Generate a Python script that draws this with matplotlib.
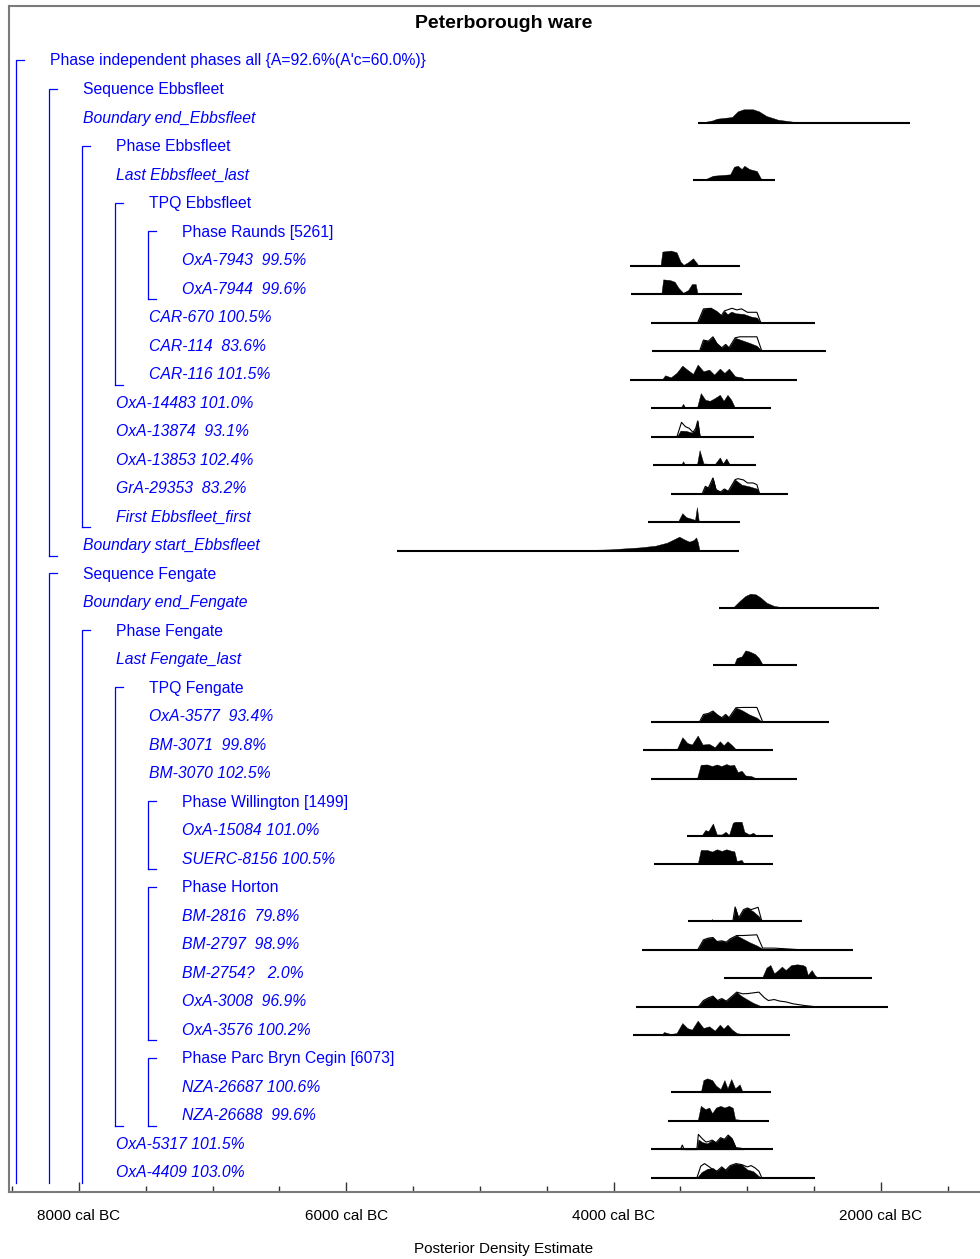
"""OxCal style multiplot: Peterborough ware posterior densities."""

import matplotlib
matplotlib.use("Agg")
import matplotlib.pyplot as plt
from matplotlib import font_manager
from matplotlib.transforms import blended_transform_factory


TITLE = "Peterborough ware"
XLABEL = "Posterior Density Estimate"

LABELS = [
    "Phase independent phases all {A=92.6%(A'c=60.0%)}",
    "Sequence Ebbsfleet",
    "Boundary end_Ebbsfleet",
    "Phase Ebbsfleet",
    "Last Ebbsfleet_last",
    "TPQ Ebbsfleet",
    "Phase Raunds [5261]",
    "OxA-7943  99.5%",
    "OxA-7944  99.6%",
    "CAR-670 100.5%",
    "CAR-114  83.6%",
    "CAR-116 101.5%",
    "OxA-14483 101.0%",
    "OxA-13874  93.1%",
    "OxA-13853 102.4%",
    "GrA-29353  83.2%",
    "First Ebbsfleet_first",
    "Boundary start_Ebbsfleet",
    "Sequence Fengate",
    "Boundary end_Fengate",
    "Phase Fengate",
    "Last Fengate_last",
    "TPQ Fengate",
    "OxA-3577  93.4%",
    "BM-3071  99.8%",
    "BM-3070 102.5%",
    "Phase Willington [1499]",
    "OxA-15084 101.0%",
    "SUERC-8156 100.5%",
    "Phase Horton",
    "BM-2816  79.8%",
    "BM-2797  98.9%",
    "BM-2754?   2.0%",
    "OxA-3008  96.9%",
    "OxA-3576 100.2%",
    "Phase Parc Bryn Cegin [6073]",
    "NZA-26687 100.6%",
    "NZA-26688  99.6%",
    "OxA-5317 101.5%",
    "OxA-4409 103.0%",
]

LEVELS = [0, 1, 1, 2, 2, 3, 4, 4, 4, 3, 3, 3, 2, 2, 2, 2, 2, 1, 1, 1,
          2, 2, 3, 3, 3, 3, 4, 4, 4, 4, 4, 4, 4, 4, 4, 4, 4, 4, 2, 2]

# rows drawn upright (group headers); everything else is italic
HEADER_ROWS = [0, 1, 3, 5, 6, 18, 20, 22, 26, 29, 35]

# (level, first row, last row or None when the bracket runs to the axis)
BRACKETS = [
    (0, 0, None), (1, 1, 17), (1, 18, None), (2, 3, 16), (2, 20, None),
    (3, 5, 11), (3, 22, 37), (4, 6, 8), (4, 26, 28), (4, 29, 34), (4, 35, 37),
]

# baseline extent of each distribution, years cal BC
LINE_RANGE = {
    "Boundary end_Ebbsfleet": (3366, 1782),
    "Last Ebbsfleet_last": (3409, 2793),
    "OxA-7943  99.5%": (3878, 3056),
    "OxA-7944  99.6%": (3867, 3036),
    "CAR-670 100.5%": (3721, 2492),
    "CAR-114  83.6%": (3715, 2412),
    "CAR-116 101.5%": (3878, 2627),
    "OxA-14483 101.0%": (3721, 2822),
    "OxA-13874  93.1%": (3721, 2950),
    "OxA-13853 102.4%": (3709, 2934),
    "GrA-29353  83.2%": (3572, 2698),
    "First Ebbsfleet_first": (3744, 3056),
    "Boundary start_Ebbsfleet": (5619, 3065),
    "Boundary end_Fengate": (3214, 2011),
    "Last Fengate_last": (3257, 2627),
    "OxA-3577  93.4%": (3721, 2392),
    "BM-3071  99.8%": (3778, 2807),
    "BM-3070 102.5%": (3721, 2627),
    "OxA-15084 101.0%": (3452, 2807),
    "SUERC-8156 100.5%": (3701, 2807),
    "BM-2816  79.8%": (3443, 2590),
    "BM-2797  98.9%": (3787, 2212),
    "BM-2754?   2.0%": (3171, 2069),
    "OxA-3008  96.9%": (3835, 1948),
    "OxA-3576 100.2%": (3858, 2684),
    "NZA-26687 100.6%": (3572, 2822),
    "NZA-26688  99.6%": (3592, 2836),
    "OxA-5317 101.5%": (3721, 2807),
    "OxA-4409 103.0%": (3721, 2492),
}

# posterior (filled) densities: years cal BC, height in pixels (max ~15)
POSTERIOR = {
    "Boundary end_Ebbsfleet": (
        [3357, 3257, 3228, 3114, 3071, 3028, 2956, 2913, 2856, 2770, 2656, 2455, 2312],
        [0, 2.7, 4.3, 6, 11.7, 13.7, 13.7, 11.7, 7, 3.3, 1.3, 0.3, 0]),
    "Last Ebbsfleet_last": (
        [3328, 3257, 3128, 3099, 3071, 3042, 3022, 2985, 2928, 2899, 2885],
        [0, 4.3, 5.7, 13.3, 14.3, 11, 14.3, 11, 9, 1.7, 0]),
    "OxA-7943  99.5%": (
        [3649, 3635, 3572, 3529, 3500, 3477, 3443, 3406, 3377, 3366],
        [0, 14, 15, 13.3, 4, 0.7, 3.3, 7.3, 2.3, 0]),
    "OxA-7944  99.6%": (
        [3643, 3629, 3578, 3543, 3515, 3480, 3443, 3414, 3386, 3372],
        [0, 14.7, 14, 12.3, 6.3, 1.3, 4, 10, 10, 0]),
    "CAR-670 100.5%": (
        [3371, 3328, 3271, 3228, 3194, 3171, 3148, 3120, 3085, 3028, 2971, 2928, 2899],
        [0, 13.7, 14.3, 11, 7, 11.7, 8.3, 11, 9.3, 8.7, 6, 5, 0]),
    "CAR-114  83.6%": (
        [3357, 3328, 3291, 3257, 3228, 3191, 3162, 3137, 3091, 3042, 2985, 2928, 2891],
        [0, 11, 10, 14.3, 7.7, 3.3, 6.7, 3.3, 13.3, 11, 8.3, 5.3, 0]),
    "CAR-116 101.5%": (
        [3638, 3615, 3572, 3529, 3486, 3449, 3406, 3371, 3328, 3285, 3248, 3205,
         3171, 3137, 3091, 3042, 3014],
        [0, 4.3, 2.3, 6.7, 14, 10, 5.7, 15, 8.3, 10, 5, 11, 6.7, 11, 3.3, 2.3, 0]),
    "OxA-14483 101.0%": (
        [3500, 3480, 3463, 3377, 3348, 3314, 3280, 3243, 3205, 3177, 3148, 3120, 3091],
        [0, 4.3, 0, 0, 15, 8.3, 7.3, 10, 13.3, 7.3, 13.3, 8.3, 0]),
    "OxA-13874  93.1%": (
        [3526, 3500, 3457, 3414, 3394, 3371, 3354],
        [0, 6, 5.7, 4, 6, 15.7, 0]),
    "OxA-13853 102.4%": (
        [3495, 3480, 3466, 3377, 3357, 3328, 3243, 3205, 3182, 3157, 3128],
        [0, 4, 0, 0, 15, 1.7, 1, 7.7, 1.7, 6.7, 0]),
    "GrA-29353  83.2%": (
        [3337, 3314, 3291, 3257, 3234, 3200, 3171, 3143, 3091, 3042, 2985, 2928, 2908],
        [0, 7.3, 5.7, 15.7, 4, 1.7, 4.7, 2.3, 14, 9, 7.3, 5, 0]),
    "First Ebbsfleet_first": (
        [3520, 3486, 3457, 3414, 3391, 3377, 3363, 3314, 3171],
        [0, 9, 5, 3.3, 2.3, 15, 1.3, 0.7, 0]),
    "Boundary start_Ebbsfleet": (
        [4603, 4316, 4030, 3801, 3686, 3600, 3543, 3509, 3472, 3434, 3400, 3383,
         3371, 3357],
        [0, 0.3, 1.3, 3.3, 5, 8, 11.7, 14, 11.3, 9, 10.7, 13.3, 9, 0]),
    "Boundary end_Fengate": (
        [3108, 3057, 3014, 2976, 2936, 2899, 2856, 2799, 2713],
        [0, 6.7, 11.7, 14, 13.3, 10, 5, 1.7, 0]),
    "Last Fengate_last": (
        [3099, 3079, 3042, 3014, 2985, 2942, 2913, 2885],
        [0, 6.7, 8.3, 14.3, 13.3, 10.7, 6.7, 0]),
    "OxA-3577  93.4%": (
        [3357, 3328, 3291, 3257, 3223, 3191, 3162, 3137, 3085, 3042, 2985, 2928, 2891],
        [0, 7.3, 8.3, 10.7, 6.7, 4, 7.3, 4, 14, 11.7, 7.3, 4, 0]),
    "BM-3071  99.8%": (
        [3644, 3615, 3572, 3529, 3486, 3449, 3414, 3371, 3334, 3285, 3243, 3205,
         3177, 3148, 3114, 3079],
        [0, 1.7, 0, 0.3, 13, 7.3, 5.7, 14.7, 5.7, 6.3, 3, 9, 5, 9, 5, 0]),
    "BM-3070 102.5%": (
        [3377, 3348, 3300, 3263, 3228, 3194, 3157, 3128, 3099, 3071, 3042, 3014,
         2971, 2928],
        [0, 14, 14.3, 12.7, 14.3, 12.7, 14.7, 13.3, 14, 6.7, 8, 3.3, 2.7, 0]),
    "OxA-15084 101.0%": (
        [3343, 3314, 3291, 3257, 3228, 3191, 3162, 3137, 3108, 3091, 3042, 3022,
         2985, 2956, 2928],
        [0, 5.7, 4.7, 12.3, 1.3, 1.3, 4, 0.7, 13, 14, 14, 4, 1.3, 3, 0]),
    "SUERC-8156 100.5%": (
        [3371, 3348, 3300, 3263, 3228, 3191, 3157, 3114, 3097, 3079, 3042, 3022],
        [0, 14.3, 14.3, 12.7, 15, 13.3, 15, 13.3, 13, 3.3, 4.3, 0]),
    "BM-2816  79.8%": (
        [3271, 3263, 3251, 3108, 3091, 3065, 3028, 2999, 2956, 2913, 2891],
        [0, 2.3, 0, 0, 14.3, 3.3, 11.7, 13.3, 10, 5, 0]),
    "BM-2797  98.9%": (
        [3371, 3328, 3291, 3257, 3228, 3191, 3157, 3128, 3079, 3042, 2985, 2928,
         2885, 2856],
        [0, 10, 11.7, 12.3, 8.3, 9, 7.7, 11, 14.3, 11.7, 7.7, 4.3, 1, 0]),
    "BM-2754?   2.0%": (
        [2891, 2856, 2827, 2799, 2770, 2741, 2713, 2670, 2627, 2584, 2564, 2547,
         2518, 2495, 2469],
        [0, 10.7, 13.3, 5, 8, 11.7, 8.3, 13.3, 14, 13.3, 11.7, 3.3, 8.3, 3.3, 0]),
    "OxA-3008  96.9%": (
        [3366, 3328, 3291, 3257, 3223, 3191, 3157, 3128, 3079, 3042, 2999, 2956, 2885],
        [0, 6.3, 9, 10.7, 6.3, 8.3, 5.7, 9, 14.7, 10.7, 7.3, 4, 0]),
    "OxA-3576 100.2%": (
        [3644, 3623, 3572, 3529, 3486, 3449, 3414, 3371, 3328, 3285, 3243, 3205,
         3177, 3148, 3114, 3079, 3042, 3014],
        [0, 3.3, 1.3, 2.3, 12.3, 7.3, 5.7, 14.7, 7.3, 9, 4.7, 10.7, 6.7, 10.7,
         5.7, 2.3, 1.3, 0]),
    "NZA-26687 100.6%": (
        [3348, 3328, 3300, 3263, 3234, 3200, 3171, 3148, 3120, 3091, 3057, 3034],
        [0, 12.3, 14, 12.3, 6.7, 3.3, 12.3, 4, 13.3, 4, 8, 0]),
    "NZA-26688  99.6%": (
        [3371, 3348, 3314, 3285, 3263, 3234, 3200, 3171, 3137, 3108, 3091, 3042, 3028],
        [0, 15, 11.7, 13.3, 7.7, 13.3, 15, 13.3, 15, 13, 1.7, 1, 0]),
    "OxA-5317 101.5%": (
        [3500, 3486, 3472, 3377, 3366, 3337, 3300, 3263, 3234, 3200, 3171, 3143,
         3114, 3085, 3042, 3028],
        [0, 2, 0, 0, 10, 7.3, 6, 9.3, 6.7, 11.7, 10, 14.3, 10.7, 1.7, 0.7, 0]),
    "OxA-4409 103.0%": (
        [3377, 3343, 3300, 3257, 3228, 3191, 3162, 3128, 3085, 3042, 2999, 2956,
         2913, 2891],
        [0, 5.7, 9, 10, 6.7, 11, 7.7, 12.3, 14.3, 13.3, 8.3, 6.7, 1.7, 0]),
}

# unmodelled (prior) likelihoods drawn as outlines where they differ
PRIOR = {
    "CAR-670 100.5%": (
        [3371, 3328, 3271, 3228, 3194, 3171, 3114, 3079, 3042, 2999, 2928, 2899],
        [0, 13.7, 14.3, 11, 7, 11.7, 14.3, 12.7, 13.7, 10.3, 10.3, 0]),
    "CAR-114  83.6%": (
        [3357, 3328, 3291, 3257, 3228, 3191, 3162, 3137, 3091, 3056, 2928, 2891],
        [0, 11, 10, 14.3, 7.7, 3.3, 6.7, 3.3, 13.3, 14.3, 14.3, 0]),
    "OxA-13874  93.1%": (
        [3526, 3492, 3463, 3434, 3406, 3386, 3371, 3354],
        [0, 14.3, 10, 8.3, 4.3, 8.3, 15.7, 0]),
    "GrA-29353  83.2%": (
        [3337, 3314, 3291, 3257, 3234, 3200, 3171, 3143, 3091, 3071, 3028, 2999,
         2956, 2928, 2908],
        [0, 7.3, 5.7, 15.7, 4, 1.7, 4.7, 2.3, 14, 15, 13.7, 10.7, 10.7, 9, 0]),
    "OxA-3577  93.4%": (
        [3357, 3328, 3291, 3257, 3223, 3191, 3162, 3137, 3085, 3034, 2928, 2885],
        [0, 7.3, 8.3, 10.7, 6.7, 4, 7.3, 4, 14, 14.3, 14.3, 0]),
    "BM-2816  79.8%": (
        [3108, 3091, 3065, 3028, 2999, 2971, 2919, 2891],
        [0, 14.3, 3.3, 11.7, 13.3, 11.7, 14, 0]),
    "BM-2797  98.9%": (
        [3371, 3328, 3291, 3257, 3228, 3191, 3157, 3128, 3079, 3028, 2928, 2885,
         2799, 2713, 2598],
        [0, 10, 11.7, 12.3, 8.3, 9, 7.7, 11, 14.3, 14.3, 15, 1.7, 1.7, 1, 0]),
    "OxA-3008  96.9%": (
        [3366, 3328, 3291, 3257, 3223, 3191, 3157, 3128, 3079, 3034, 2994, 2913,
         2871, 2842, 2799, 2756, 2713, 2656, 2570, 2484],
        [0, 6.3, 9, 10.7, 6.3, 8.3, 5.7, 9, 14.7, 13, 13.3, 14.7, 9, 6.3, 7.3,
         5.7, 5, 3, 1.3, 0]),
    "OxA-5317 101.5%": (
        [3500, 3486, 3472, 3377, 3366, 3337, 3308, 3280, 3263, 3234, 3200, 3171,
         3143, 3114, 3085, 3042, 3028],
        [0, 4.3, 0, 0, 15, 10.7, 7.3, 8.3, 9.3, 6.7, 11.7, 10, 14.3, 10.7, 1.7, 1, 0]),
    "OxA-4409 103.0%": (
        [3377, 3348, 3320, 3291, 3257, 3228, 3191, 3162, 3128, 3085, 3042, 2999,
         2971, 2942, 2913, 2891],
        [0, 11.7, 14.3, 11.7, 8.3, 6.7, 11, 7.7, 12.3, 14.3, 13.3, 11, 12.3, 10,
         6.7, 0]),
}

MAJOR_TICKS = [8000, 6000, 4000, 2000]
MINOR_TICKS = list(range(8500, 1000, -500))

# layout, in output pixels (figure is 980 x 1259 at dpi 100)
W, H = 980, 1259
AX_LEFT, AX_TOP, AX_BOTTOM = 9.3, 5.7, 1192.0
ROW0, ROW_STEP = 61.0, 28.51
BRACKET_X0, INDENT, TEXT_GAP, HOOK = 15.7, 33.0, 34.0, 8.0
BASE_OFFSET = 5.0         # distribution baseline below label centre
HOOK_BELOW = 10.0         # bottom hook below last row centre
OPEN_END = 1183.0         # y where open brackets stop
X_LEFT_YEAR, X_RIGHT_YEAR = 8521.5, 1258.7


def has_font(name):
    return any(f.name == name for f in font_manager.fontManager.ttflist)


if has_font("Liberation Sans Narrow"):
    FAMILY, LABEL_SIZE, TICK_SIZE = ["Liberation Sans Narrow", "Liberation Sans"], 13.2, 13
else:
    FAMILY, LABEL_SIZE, TICK_SIZE = ["Liberation Sans", "DejaVu Sans"], 11.3, 11

BLUE = "#0000ff"


def main():
    fig = plt.figure(figsize=(W / 100, H / 100), dpi=100)
    ax = fig.add_axes([AX_LEFT / W, 1 - AX_BOTTOM / H, 1 - AX_LEFT / W,
                       (AX_BOTTOM - AX_TOP) / H])
    ax.set_xlim(X_LEFT_YEAR, X_RIGHT_YEAR)
    ax.set_ylim((AX_BOTTOM - ROW0) / ROW_STEP, (AX_TOP - ROW0) / ROW_STEP)

    def frac(px):
        return (px - AX_LEFT) / (W - AX_LEFT)

    blend = blended_transform_factory(ax.transAxes, ax.transData)
    px2row = 1.0 / ROW_STEP

    # labels
    for i, (label, level) in enumerate(zip(LABELS, LEVELS)):
        x = frac(BRACKET_X0 + INDENT * level + TEXT_GAP)
        ax.text(x, i, label, transform=blend, ha="left", va="center",
                color=BLUE, fontsize=LABEL_SIZE, family=FAMILY,
                style="normal" if i in HEADER_ROWS else "italic")

    # group brackets
    for level, first, last in BRACKETS:
        xb = frac(BRACKET_X0 + INDENT * level)
        xh = frac(BRACKET_X0 + INDENT * level + HOOK)
        y_top = first - 1.0 * px2row
        y_end = (OPEN_END - ROW0) / ROW_STEP if last is None else last + HOOK_BELOW * px2row
        ax.plot([xh, xb, xb], [y_top, y_top, y_end], color=BLUE, lw=0.9,
                transform=blend, solid_joinstyle="miter")
        if last is not None:
            ax.plot([xb, xh], [y_end, y_end], color=BLUE, lw=0.9, transform=blend)

    # distributions
    for i, label in enumerate(LABELS):
        if label not in LINE_RANGE:
            continue
        base = i + BASE_OFFSET * px2row
        if label in POSTERIOR:
            yrs, hts = POSTERIOR[label]
            ax.fill_between(yrs, base, [base - h * px2row for h in hts],
                            color="black", lw=0.3, zorder=2)
        if label in PRIOR:
            yrs, hts = PRIOR[label]
            ax.plot(yrs, [base - h * px2row for h in hts], color="black",
                    lw=0.8, zorder=3)
        start, end = LINE_RANGE[label]
        ax.plot([start, end], [base, base], color="black", lw=1.5,
                solid_capstyle="butt", zorder=3)

    # frame and axis
    ax.spines["right"].set_visible(False)
    for side in ("left", "top", "bottom"):
        ax.spines[side].set_color("#7a7a7a")
        ax.spines[side].set_linewidth(1.5)
    ax.set_yticks([])
    ax.set_xticks(MAJOR_TICKS)
    ax.set_xticks(MINOR_TICKS, minor=True)
    ax.set_xticklabels([f"{y} cal BC" for y in MAJOR_TICKS], family=FAMILY,
                       fontsize=TICK_SIZE)
    ax.tick_params(axis="x", which="major", direction="in", length=7.5,
                   width=1, color="#333333", pad=12)
    ax.tick_params(axis="x", which="minor", direction="in", length=4.3,
                   width=1, color="#333333")

    fig.text(504 / W, 1 - 24 / H, TITLE, ha="center", va="center",
             fontsize=14, fontweight="bold", family=["Liberation Sans", "DejaVu Sans"])
    fig.text(504 / W, 1 - 1249 / H, XLABEL, ha="center", va="center",
             fontsize=TICK_SIZE, family=FAMILY)

    fig.savefig("out.png", dpi=100)


if __name__ == "__main__":
    main()
